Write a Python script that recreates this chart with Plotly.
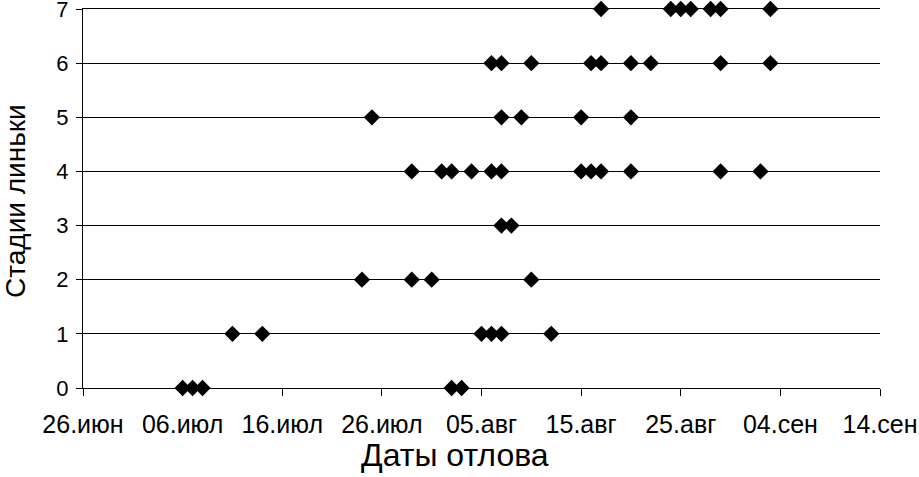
import plotly.graph_objects as go

# Capture dates (year arbitrary) and molt stages
dates = [
    "2000-07-06", "2000-07-07", "2000-07-08", "2000-08-02", "2000-08-03",
    "2000-07-11", "2000-07-14", "2000-08-05", "2000-08-06", "2000-08-07", "2000-08-12",
    "2000-07-24", "2000-07-29", "2000-07-31", "2000-08-10",
    "2000-08-07", "2000-08-08",
    "2000-07-29", "2000-08-01", "2000-08-02", "2000-08-04", "2000-08-06", "2000-08-07",
    "2000-08-15", "2000-08-16", "2000-08-17", "2000-08-20", "2000-08-29", "2000-09-02",
    "2000-07-25", "2000-08-07", "2000-08-09", "2000-08-15", "2000-08-20",
    "2000-08-06", "2000-08-07", "2000-08-10", "2000-08-16", "2000-08-17", "2000-08-20",
    "2000-08-22", "2000-08-29", "2000-09-03",
    "2000-08-17", "2000-08-24", "2000-08-25", "2000-08-26", "2000-08-28", "2000-08-29",
    "2000-09-03",
]
stages = [
    0, 0, 0, 0, 0,
    1, 1, 1, 1, 1, 1,
    2, 2, 2, 2,
    3, 3,
    4, 4, 4, 4, 4, 4,
    4, 4, 4, 4, 4, 4,
    5, 5, 5, 5, 5,
    6, 6, 6, 6, 6, 6,
    6, 6, 6,
    7, 7, 7, 7, 7, 7,
    7,
]

x_tick_vals = ["2000-06-26", "2000-07-06", "2000-07-16", "2000-07-26", "2000-08-05",
               "2000-08-15", "2000-08-25", "2000-09-04", "2000-09-14"]
x_tick_text = ["26.июн", "06.июл", "16.июл", "26.июл", "05.авг",
               "15.авг", "25.авг", "04.сен", "14.сен"]
y_ticks = [0, 1, 2, 3, 4, 5, 6, 7]
x_title = "Даты отлова"
y_title = "Стадии линьки"

fig = go.Figure(go.Scatter(
    x=dates, y=stages, mode="markers",
    marker=dict(symbol="diamond", size=12.5, color="black", line=dict(width=0)),
    cliponaxis=False, showlegend=False,
))

font_family = "Liberation Sans, Arial, sans-serif"
fig.update_layout(
    width=919, height=477,
    margin=dict(l=83, r=39, t=9, b=89),
    paper_bgcolor="white", plot_bgcolor="white",
    font=dict(family=font_family, color="black", size=22),
    annotations=[
        dict(text=x_title, xref="paper", yref="paper", x=0.4668, y=-0.1768,
             xanchor="center", yanchor="middle", showarrow=False,
             font=dict(size=32)),
        dict(text=y_title, xref="paper", yref="paper", x=-0.0855, y=0.493,
             xanchor="center", yanchor="middle", showarrow=False, textangle=-90,
             font=dict(size=28)),
    ],
)
fig.update_xaxes(
    type="date", range=[x_tick_vals[0], x_tick_vals[-1]],
    tickvals=x_tick_vals, ticktext=x_tick_text,
    showgrid=False, zeroline=False, automargin=False,
    showline=True, mirror=True, linecolor="black", linewidth=1,
    ticks="outside", ticklen=7, tickcolor="black", tickwidth=1,
    ticklabelstandoff=7, ticklabeloverflow="allow",
    tickfont=dict(size=25),
)
fig.update_yaxes(
    range=[0, 7], tickvals=y_ticks,
    showgrid=True, gridcolor="black", gridwidth=1,
    zeroline=False, automargin=False,
    showline=True, linecolor="black", linewidth=1,
    ticks="outside", ticklen=6, tickcolor="black", tickwidth=1,
    ticklabelstandoff=3, ticklabeloverflow="allow",
    tickfont=dict(size=22),
)

fig.write_html(
    "out.html",
    config={"displayModeBar": False},
    post_script="document.body.style.margin='0';document.body.style.padding='0';",
)
